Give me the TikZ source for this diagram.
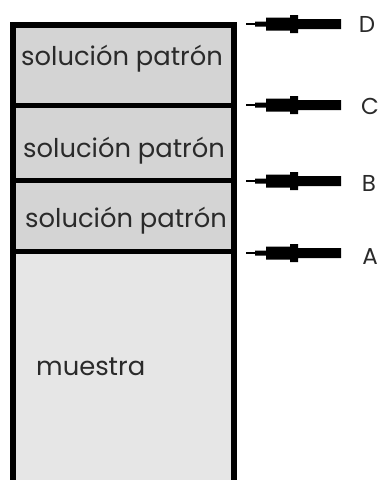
\documentclass[tikz,border=0pt]{standalone}
\usepackage{fontspec}
\setmainfont{Poppins}
\definecolor{patron}{HTML}{D4D4D4}
\definecolor{muestrafill}{HTML}{E6E6E6}
\definecolor{ink}{HTML}{2A2A2A}
\tikzset{
  layerfill/.style={fill=#1, draw=none, inner sep=0pt, minimum width=218pt, anchor=north west},
  wall/.style={line width=6pt, miter limit=10, line join=miter},
  divider/.style={line width=5pt},
  layertext/.style={font=\fontsize{25.8}{28}\selectfont, text=ink, inner sep=0pt, anchor=base west},
  letter/.style={font=\fontsize{23}{25}\selectfont, text=ink, inner sep=0pt},
  pointer/.pic={
    \fill (0,-0.7) rectangle (9,0.7);
    \fill (9,-2.5)--(20,-2.5)--(20,-6.5)--(44,-6.5)--(44,-9)--(52,-9)--(52,-5)--(95,-5)
          --(95,5)--(52,5)--(52,9)--(44,9)--(44,6.5)--(20,6.5)--(20,2.5)--(9,2.5)--cycle;
  }
}
\begin{document}
\begin{tikzpicture}[x=1pt,y=-1pt]
\useasboundingbox (0,0) rectangle (382,480);
% layer fills
\node[layerfill=patron, minimum height=81pt] (L1) at (14,24.5) {};
\node[layerfill=patron, minimum height=75pt] (L2) at (14,105.5) {};
\node[layerfill=patron, minimum height=71pt] (L3) at (14,180.5) {};
\node[layerfill=muestrafill, minimum height=229pt] (L4) at (14,251.5) {};
% walls
\draw[wall] (13,480) -- (13,24.5) -- (233.5,24.5) -- (233.5,480);
\draw[divider] (13,105.5) -- (233.5,105.5);
\draw[divider] (13,180.5) -- (233.5,180.5);
\draw[divider] (13,251.5) -- (233.5,251.5);
% texts
\node[layertext] (t1) at (21,65) {solución patrón};
\node[layertext] (t2) at (23,157) {solución patrón};
\node[layertext] (t3) at (25,227) {solución patrón};
\node[layertext] (t4) at (36,375) {muestra};
% labels and pointers
\node[letter] (D) at (367,24) {D};
\node[letter] (C) at (370,106) {C};
\node[letter] (B) at (369,183) {B};
\node[letter] (A) at (370,257) {A};
\coordinate (pD) at (246,24);
\coordinate (pC) at (246,105);
\coordinate (pB) at (246,181);
\coordinate (pA) at (246,253);
\pic at (pD) {pointer};
\pic at (pC) {pointer};
\pic at (pB) {pointer};
\pic at (pA) {pointer};
\end{tikzpicture}
\end{document}
